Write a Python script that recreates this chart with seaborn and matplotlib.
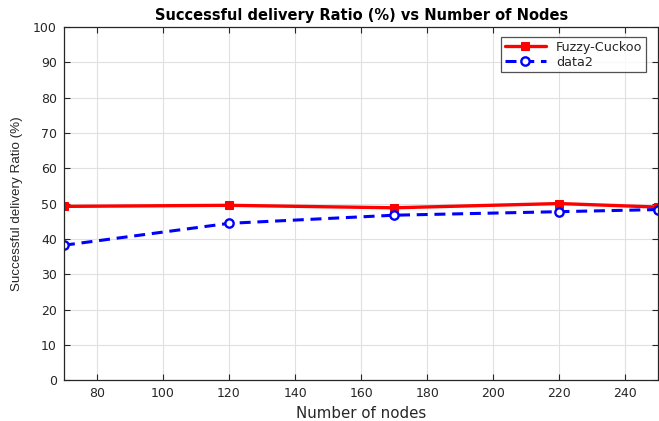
import matplotlib
matplotlib.use("Agg")
import matplotlib.pyplot as plt
import seaborn as sns
import pandas as pd

nodes = [70, 120, 170, 220, 250]
fuzzy_cuckoo = [49.2, 49.5, 48.8, 50.0, 49.0]
data2 = [38.2, 44.4, 46.7, 47.7, 48.3]

sns.set_style("white")
plt.rcParams["font.family"] = ["DejaVu Sans"]

df = pd.DataFrame({
    "nodes": nodes * 2,
    "ratio": fuzzy_cuckoo + data2,
    "series": ["Fuzzy-Cuckoo"] * len(nodes) + ["data2"] * len(nodes),
})

fig = plt.figure(figsize=(6.59, 4.21), dpi=100)
ax = fig.add_axes([0.097, 0.097, 0.902, 0.839])

sns.lineplot(data=df[df.series == "Fuzzy-Cuckoo"], x="nodes", y="ratio",
             color="#ff0000", lw=2.4, marker="s", markersize=6,
             markeredgecolor="#ff0000", label="Fuzzy-Cuckoo", ax=ax)
sns.lineplot(data=df[df.series == "data2"], x="nodes", y="ratio",
             color="#0000ff", lw=2.2, linestyle=(0, (3.6, 2.2)), marker="o",
             markersize=6, markerfacecolor="white", markeredgecolor="#0000ff",
             markeredgewidth=1.7, label="data2", ax=ax)

ax.set_xlim(70, 250)
ax.set_ylim(0, 100)
ax.set_xticks(range(80, 250, 20))
ax.set_yticks(range(0, 101, 10))
ax.grid(True, color="#e0e0e0", lw=0.8)
ax.tick_params(direction="in", length=4, labelsize=9, colors="#262626",
               top=True, right=True, bottom=True, left=True, pad=5)
for s in ax.spines.values():
    s.set_color("#262626")
    s.set_linewidth(0.9)

ax.set_title("Successful delivery Ratio (%) vs Number of Nodes",
             fontsize=10.5, fontweight="bold", color="black", pad=5)
ax.set_xlabel("Number of nodes", fontsize=10.8, color="#262626", labelpad=4)
ax.set_ylabel("Successful delivery Ratio (%)", fontsize=9.6, color="#262626",
              labelpad=7, family=["Liberation Sans", "DejaVu Sans"])

leg = ax.legend(loc="upper right", bbox_to_anchor=(0.98, 0.972), borderaxespad=0,
                fontsize=9.2, frameon=True, fancybox=False, edgecolor="#262626",
                handlelength=3.2, borderpad=0.3, labelspacing=0.15)
leg.get_frame().set_linewidth(0.9)

fig.savefig("out.png", dpi=100)
